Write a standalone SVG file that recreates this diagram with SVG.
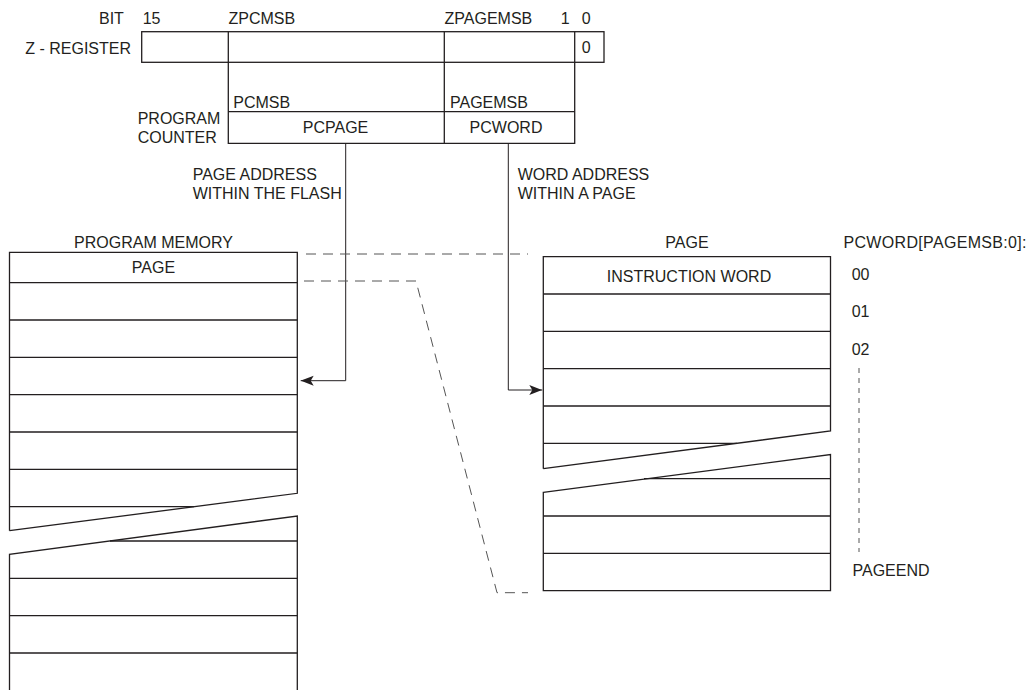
<svg xmlns="http://www.w3.org/2000/svg" width="1031" height="690" viewBox="0 0 1031 690">
<style>
  text { font-family: "Liberation Sans", Arial, sans-serif; font-size: 16px; fill: #231f20; }
  .mid { text-anchor: middle; }
  .end { text-anchor: end; }
  .box { fill: none; stroke: #231f20; stroke-width: 1.3; }
  .conn { fill: none; stroke: #231f20; stroke-width: 1; }
  .dash { fill: none; stroke: #555; stroke-width: 1; stroke-dasharray: 10 7; }
  .dot { fill: none; stroke: #555; stroke-width: 1; stroke-dasharray: 5 5; }
</style>
<defs>
  <marker id="arrow" markerUnits="userSpaceOnUse" viewBox="0 0 13 11" refX="13" refY="5.5" markerWidth="13" markerHeight="11" orient="auto">
    <path d="M0,0.5 L13,5.5 L0,10.5 L3,5.5 Z" fill="#231f20"/>
  </marker>
</defs>

<g id="bit-labels">
  <text x="99" y="24.3">BIT</text>
  <text x="142.7" y="24.3">15</text>
  <text x="228.5" y="24.3">ZPCMSB</text>
  <text x="444.5" y="24.3">ZPAGEMSB</text>
  <text x="560.7" y="24.3">1</text>
  <text x="581.7" y="24.3">0</text>
</g>

<g id="z-register">
  <text class="end" x="131" y="54">Z - REGISTER</text>
  <rect class="box" x="141.7" y="31.7" width="462.3" height="30.6"/>
  <path class="box" d="M228.3,31.7 V62.3 M444.3,31.7 V62.3 M574.7,31.7 V62.3"/>
  <text x="581.7" y="53">0</text>
</g>

<g id="program-counter">
  <path class="box" d="M228.3,62.3 V143.3 H574.7 V62.3 M228.3,111.7 H574.7 M444.3,62.3 V143.3"/>
  <text x="233.3" y="107.5">PCMSB</text>
  <text x="450" y="107.5">PAGEMSB</text>
  <text x="137.7" y="124">PROGRAM</text>
  <text x="137.7" y="142.7">COUNTER</text>
  <text class="mid" x="335.5" y="133.3">PCPAGE</text>
  <text class="mid" x="506" y="133.3">PCWORD</text>
</g>

<g id="connector-labels">
  <text x="192.7" y="180">PAGE ADDRESS</text>
  <text x="192.7" y="198.7">WITHIN THE FLASH</text>
  <text x="517.7" y="180">WORD ADDRESS</text>
  <text x="517.7" y="198.7">WITHIN A PAGE</text>
</g>

<g id="program-memory">
  <text class="mid" x="153.5" y="247.5">PROGRAM MEMORY</text>
  <path class="box" d="M9.5,530.7 V252.3 H297.3 V493.3 L9.5,530.7"/>
  <path class="box" d="M9.5,282.7 H297.3 M9.5,320 H297.3 M9.5,357.3 H297.3 M9.5,394.7 H297.3 M9.5,432 H297.3 M9.5,469.3 H297.3 M9.5,506.7 H194"/>
  <path class="box" d="M9.5,690 V554.3 L297.3,516 V690"/>
  <path class="box" d="M110,541 H297.3 M9.5,578.3 H297.3 M9.5,615.7 H297.3 M9.5,653 H297.3"/>
  <text class="mid" x="153.5" y="273.3">PAGE</text>
</g>

<g id="page">
  <text class="mid" x="687" y="247.5">PAGE</text>
  <path class="box" d="M543.3,468.7 V256.7 H830.5 V431 L543.3,468.7"/>
  <path class="box" d="M543.3,294 H830.5 M543.3,331.3 H830.5 M543.3,368.7 H830.5 M543.3,406 H830.5 M543.3,443.3 H737"/>
  <path class="box" d="M543.3,492.3 L830.5,454.6 V590.7 H543.3 Z"/>
  <path class="box" d="M644,478.7 H830.5 M543.3,516 H830.5 M543.3,553.3 H830.5"/>
  <text class="mid" x="689" y="282">INSTRUCTION WORD</text>
</g>

<g id="pcword-index">
  <text x="843.5" y="248.3" textLength="183" lengthAdjust="spacing">PCWORD[PAGEMSB:0]:</text>
  <text x="851.7" y="280">00</text>
  <text x="851.7" y="317.3">01</text>
  <text x="851.7" y="355">02</text>
  <path class="dot" d="M859,368 V552"/>
  <text x="852.5" y="576">PAGEEND</text>
</g>

<g id="connectors">
  <path class="conn" d="M345.7,143.3 V380.7 H300.7" marker-end="url(#arrow)"/>
  <path class="conn" d="M508.3,143.3 V390 H542.3" marker-end="url(#arrow)"/>
  <path class="dash" d="M306,254 H528"/>
  <path class="dash" d="M304,281 H416 L497,592.7 H528"/>
</g>
</svg>
